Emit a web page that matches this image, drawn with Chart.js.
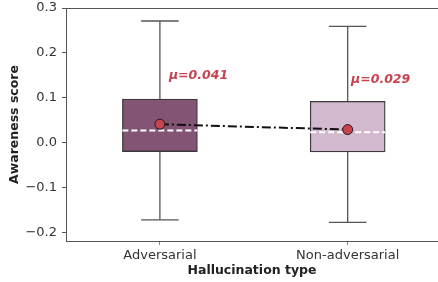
<!DOCTYPE html>
<html>
<head>
<meta charset="utf-8">
<script src="https://cdn.jsdelivr.net/npm/chart.js@4"></script>
<style>
  html, body { margin: 0; padding: 0; background: #fff; overflow: hidden; }
  #wrap { width: 438px; height: 282px; }
</style>
</head>
<body>
<div id="wrap"><canvas id="grafico" width="438" height="282"></canvas></div>
<script>
// dados
const categorias = ['Adversarial', 'Non-adversarial'];
const bigodeMin = [-0.172, -0.178];
const q1 = [-0.020, -0.021];
const mediana = [0.027, 0.023];
const q3 = [0.097, 0.092];
const bigodeMax = [0.271, 0.259];
const medias = [0.041, 0.029];
const rotulosMedia = ['μ=0.041', 'μ=0.029'];
const yTicks = [-0.2, -0.1, 0.0, 0.1, 0.2, 0.3];

const corCaixa = ['#845474', '#d2b9cd'];
const fonte = 'DejaVu Sans';

// bigodes (linha vertical inteira, fica atrás da caixa)
const datasetsBigode = categorias.map((_, i) => ({
  type: 'line',
  data: [{ x: i, y: bigodeMin[i] }, { x: i, y: bigodeMax[i] }],
  borderColor: '#555555', borderWidth: 1.3, pointRadius: 0, order: 6
}));

// tampas dos bigodes
const datasetsTampa = [];
categorias.forEach((_, i) => {
  [bigodeMin[i], bigodeMax[i]].forEach(v => {
    datasetsTampa.push({
      type: 'line',
      data: [{ x: i - 0.1, y: v }, { x: i + 0.1, y: v }],
      borderColor: '#555555', borderWidth: 1.3, pointRadius: 0, order: 6
    });
  });
});

// medianas tracejadas brancas
const datasetsMediana = categorias.map((_, i) => ({
  type: 'line',
  data: [{ x: i - 0.2, y: mediana[i] }, { x: i + 0.2, y: mediana[i] }],
  borderColor: '#ffffff', borderWidth: 2, borderDash: [6, 3], pointRadius: 0, order: 3
}));

// texto μ=... ao lado das médias
const pluginTexto = {
  id: 'textoMedia',
  afterDatasetsDraw(chart) {
    const { ctx, scales: { x, y }, chartArea } = chart;
    ctx.save();
    // moldura superior (spine)
    ctx.strokeStyle = '#555555';
    ctx.lineWidth = 1;
    ctx.beginPath();
    ctx.moveTo(chartArea.left, chartArea.top + 0.5);
    ctx.lineTo(chartArea.right, chartArea.top + 0.5);
    ctx.stroke();

    ctx.fillStyle = '#c8434f';
    ctx.font = 'italic bold 12.5px "' + fonte + '"';
    ctx.textBaseline = 'middle';
    const desloc = [[0.048, 0.150], [0.018, 0.139]];
    rotulosMedia.forEach((t, i) => {
      ctx.fillText(t, x.getPixelForValue(i + desloc[i][0]), y.getPixelForValue(desloc[i][1]));
    });
    ctx.restore();
  }
};

new Chart(document.getElementById('grafico'), {
  type: 'bar',
  data: {
    datasets: [
      {
        type: 'bar',
        data: categorias.map((_, i) => ({ x: i, y: [q1[i], q3[i]] })),
        backgroundColor: corCaixa,
        borderColor: '#3b3b3b',
        borderWidth: 1.3,
        borderSkipped: false,
        barThickness: 75,
        order: 5
      },
      ...datasetsBigode,
      ...datasetsTampa,
      ...datasetsMediana,
      {
        type: 'line',
        data: categorias.map((_, i) => ({ x: i, y: medias[i] })),
        borderColor: '#111111',
        borderWidth: 2,
        borderDash: [9, 3, 2, 3],
        pointRadius: 5,
        pointBackgroundColor: '#c8434f',
        pointBorderColor: '#2a1a1a',
        pointBorderWidth: 1,
        order: 1
      }
    ]
  },
  options: {
    responsive: false,
    animation: false,
    layout: { autoPadding: false, padding: { top: 8, right: 0, left: 0, bottom: 0 } },
    plugins: { legend: { display: false }, tooltip: { enabled: false } },
    scales: {
      x: {
        type: 'linear',
        offset: false,
        min: -0.5,
        max: 1.481,
        afterBuildTicks: s => { s.ticks = categorias.map((_, i) => ({ value: i })); },
        afterFit: s => { s.height = 41; s.paddingLeft = 0; s.paddingRight = 0; },
        ticks: {
          callback: v => categorias[v],
          color: '#333333',
          font: { family: fonte, size: 13 },
          padding: 3
        },
        grid: { display: true, drawOnChartArea: false, drawTicks: true, tickLength: 4, tickColor: '#888888', offset: false },
        border: { display: true, color: '#555555', width: 1 },
        title: { display: true, text: 'Hallucination type', color: '#222222', font: { family: fonte, size: 12.5, weight: 'bold' }, padding: { top: 0, bottom: 4 } }
      },
      y: {
        min: -0.2193,
        max: 0.3,
        afterBuildTicks: s => { s.ticks = yTicks.map(v => ({ value: v })); },
        afterFit: s => { s.width = 66; s.paddingTop = 0; s.paddingBottom = 0; },
        ticks: {
          callback: v => (v < 0 ? '\u2212' : '') + Math.abs(v).toFixed(1),
          color: '#333333',
          font: { family: fonte, size: 13 },
          padding: 5
        },
        grid: { drawOnChartArea: false, drawTicks: true, tickLength: 4, tickColor: '#555555' },
        border: { display: true, color: '#555555', width: 1 },
        title: { display: true, text: 'Awareness score', color: '#222222', font: { family: fonte, size: 12.5, weight: 'bold' }, padding: { top: 7, bottom: 0 } }
      }
    }
  },
  plugins: [pluginTexto]
});
</script>
</body>
</html>
